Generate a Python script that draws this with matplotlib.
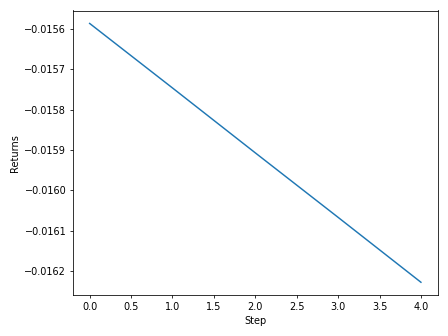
import matplotlib
matplotlib.use("Agg")
import matplotlib.pyplot as plt

steps = [0, 1, 2, 3, 4]
returns = [-0.015586, -0.015746, -0.015907, -0.016067, -0.016228]

plt.figure(figsize=(6.4, 4.8))
plt.plot(steps, returns)
plt.xlabel("Step")
plt.ylabel("Returns")
plt.tight_layout()
plt.savefig("out.png", dpi=70)
